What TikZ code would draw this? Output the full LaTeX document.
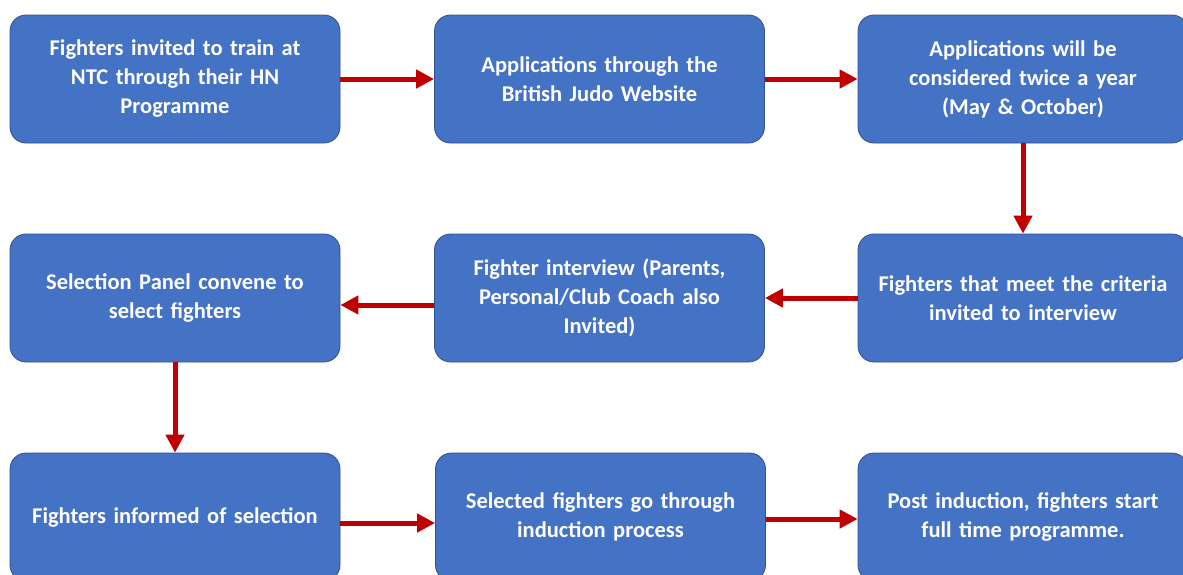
\documentclass[tikz,border=0pt]{standalone}
\usepackage{fontspec}
\setmainfont{Carlito}
\usetikzlibrary{arrows.meta}
\definecolor{boxblue}{HTML}{4472C4}
\definecolor{boxedge}{HTML}{2F528F}
\definecolor{arrowred}{HTML}{C00000}

\begin{document}
\begin{tikzpicture}[x=1pt, y=-1pt, line join=round,
  stage/.style={draw=boxedge, line width=0.8pt, fill=boxblue, rounded corners=16pt,
    minimum width=330pt, minimum height=128pt, text width=318pt, inner sep=0pt,
    align=center, text=white, font=\bfseries\fontsize{22.5}{29}\selectfont},
  flow/.style={draw=arrowred, line width=5pt, -{Triangle[length=18pt, width=18pt]}}]
  % Page frame, boxes on the right and bottom are cut by it
  \useasboundingbox (0,0) rectangle (1183,574);
  \clip (0,0) rectangle (1183,574);

  % First row
  \node[stage] (invite) at (175,79) {Fighters invited to train at\\ NTC through their HN\\ Programme};
  \node[stage] (apply) at (599.5,79) {Applications through the\\ British Judo Website};
  \node[stage] (twice) at (1023,79) {Applications will be\\ considered twice a year\\ (May \& October)};

  % Second row
  \node[stage] (panel) at (175,298) {Selection Panel convene to\\ select fighters};
  \node[stage] (interview) at (599.5,298) {Fighter interview (Parents,\\ Personal/Club Coach also\\ Invited)};
  \node[stage] (criteria) at (1023,298) {Fighters that meet the criteria\\ invited to interview};

  % Third row
  \node[stage] (informed) at (175,517) {Fighters informed of selection};
  \node[stage] (induction) at (600.5,517) {Selected fighters go through\\ induction process};
  \node[stage] (fulltime) at (1023,517) {Post induction, fighters start\\ full time programme.};

  % Arrows between the stages
  \draw[flow] (invite) -- (apply);
  \draw[flow] (apply) -- (twice);
  \draw[flow] (twice) -- (criteria);
  \draw[flow] (criteria) -- (interview);
  \draw[flow] ([yshift=-7pt]interview.west) -- ([yshift=-7pt]panel.east);
  \draw[flow] (panel) -- (informed);
  \draw[flow] ([yshift=-6pt]informed.east) -- ([yshift=-6pt]induction.west);
  \draw[flow] ([yshift=-2pt]induction.east) -- ([yshift=-2pt]fulltime.west);
\end{tikzpicture}
\end{document}
